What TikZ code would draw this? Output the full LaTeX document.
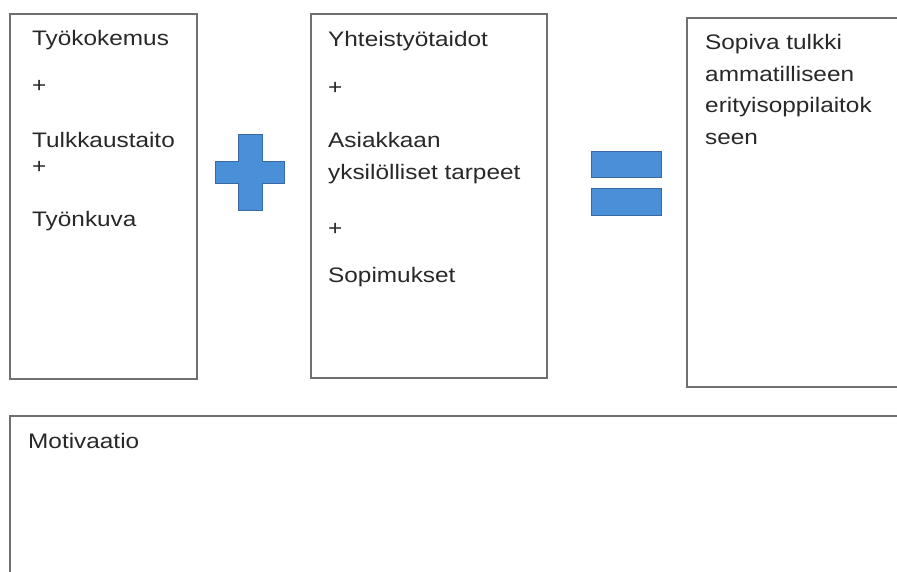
\documentclass[tikz,border=0pt]{standalone}
\usepackage{fontspec}
\setmainfont{Liberation Sans}
\usepackage{graphicx}
\definecolor{boxgray}{RGB}{112,112,112}
\definecolor{txtgray}{RGB}{40,40,40}
\definecolor{symfill}{RGB}{74,144,217}
\definecolor{symedge}{RGB}{58,104,160}
\newcommand{\wtxt}[1]{\scalebox{1.16}[1]{#1}}
\begin{document}
\begin{tikzpicture}[x=1pt,y=-1pt,
  lbl/.style={anchor=base west, inner sep=0pt, text=txtgray, font=\fontsize{21}{25}\selectfont},
  boxline/.style={draw=boxgray, line width=1.4pt},
  sym/.style={fill=symfill, draw=symedge, line width=1pt}]
\useasboundingbox (0,0) rectangle (897,572);
\clip (0,0) rectangle (897,572);
% boxes
\draw[boxline] (10,14) rectangle (197,379);
\draw[boxline] (311,14) rectangle (547,378);
\draw[boxline] (687,18) rectangle (905,387);
\draw[boxline] (10,416) rectangle (905,590);
% box 1 text
\node[lbl] (a1) at (32,46) {\wtxt{Työkokemus}};
\node[lbl] (a2) at (32,93) {\wtxt{+}};
\node[lbl] (a3) at (32,148) {\wtxt{Tulkkaustaito}};
\node[lbl] (a4) at (32,174) {\wtxt{+}};
\node[lbl] (a5) at (32,227) {\wtxt{Työnkuva}};
% box 2 text
\node[lbl] (b1) at (328,47) {\wtxt{Yhteistyötaidot}};
\node[lbl] (b2) at (328,95) {\wtxt{+}};
\node[lbl] (b3) at (328,148) {\wtxt{Asiakkaan}};
\node[lbl] (b4) at (328,180) {\wtxt{yksilölliset tarpeet}};
\node[lbl] (b5) at (328,236) {\wtxt{+}};
\node[lbl] (b6) at (328,282) {\wtxt{Sopimukset}};
% box 3 text
\node[lbl] (c1) at (705,50) {\wtxt{Sopiva tulkki}};
\node[lbl] (c2) at (705,82) {\wtxt{ammatilliseen}};
\node[lbl] (c3) at (705,113) {\wtxt{erityisoppilaitok}};
\node[lbl] (c4) at (705,145) {\wtxt{seen}};
% bottom
\node[lbl] (m1) at (28,448) {\wtxt{Motivaatio}};
% plus symbol
\draw[sym] (238,135) -- (262,135) -- (262,162) -- (284,162) -- (284,184) -- (262,184)
  -- (262,211) -- (238,211) -- (238,184) -- (215,184) -- (215,162) -- (238,162) -- cycle;
% equals symbol
\draw[sym] (591,152) rectangle (661,178);
\draw[sym] (591,189) rectangle (661,216);
\end{tikzpicture}
\end{document}
